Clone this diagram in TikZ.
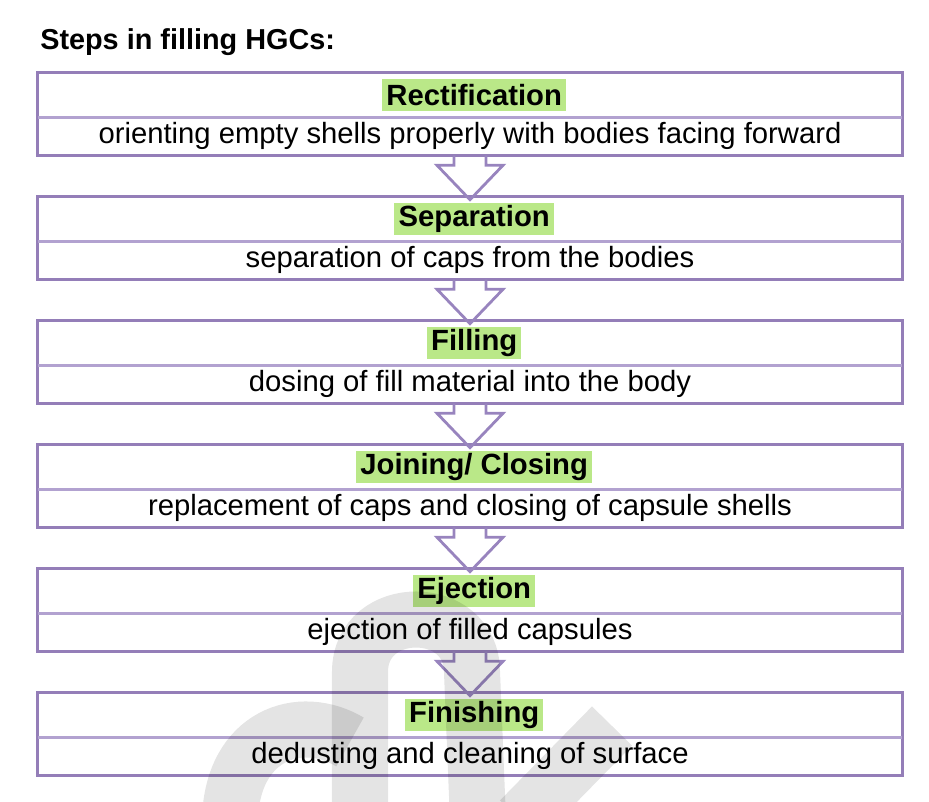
\documentclass[tikz,border=0pt]{standalone}
\usepackage{fontspec}
\setmainfont{Liberation Sans}
\usepackage{tikz}
\usetikzlibrary{calc}
\definecolor{framepurple}{RGB}{148,126,184}
\definecolor{dividerpurple}{RGB}{178,162,208}
\definecolor{arrowpurple}{RGB}{152,132,190}
\definecolor{hlgreen}{RGB}{186,232,136}
\definecolor{markgray}{RGB}{228,228,228}
\tikzset{>=latex}
\newcommand{\stepfont}{\fontsize{20.8}{24}\selectfont}
\tikzstyle{stephead}=[rectangle,minimum width=21.6cm,minimum height=1.1cm,inner sep=0pt]
\tikzstyle{stepdesc}=[rectangle,minimum width=21.6cm,minimum height=0.95cm,inner sep=0pt]
\tikzstyle{hilite}=[rectangle,fill=hlgreen,minimum height=0.8cm,inner xsep=3pt,inner ysep=0pt,font=\stepfont\bfseries]
\tikzstyle{frame}=[draw=framepurple,line width=0.075cm]
\tikzstyle{divider}=[draw=dividerpurple,line width=0.07cm]
\tikzstyle{flow}=[draw=arrowpurple,line width=0.07cm,line join=miter]
\tikzstyle{watermark}=[draw=markgray,line width=1.4cm]

\begin{document}
\begin{tikzpicture}[x=0.025cm,y=-0.025cm,font=\stepfont]
	\useasboundingbox (0,0) rectangle (929,802);
	
	\node[anchor=west,inner sep=0pt,font=\fontsize{20.5}{24}\selectfont\bfseries] (title) at (40,42) {Steps in filling HGCs:};
	
	\node[stephead] (head1) at (470,95) {};
	\node[stepdesc] (desc1) at (470,136) {};
	\node[stephead] (head2) at (470,219) {};
	\node[stepdesc] (desc2) at (470,260) {};
	\node[stephead] (head3) at (470,343) {};
	\node[stepdesc] (desc3) at (470,384) {};
	\node[stephead] (head4) at (470,467) {};
	\node[stepdesc] (desc4) at (470,508) {};
	\node[stephead] (head5) at (470,591) {};
	\node[stepdesc] (desc5) at (470,632) {};
	\node[stephead] (head6) at (470,715) {};
	\node[stepdesc] (desc6) at (470,756) {};
	
	\node[hilite,xshift=0.3em] (hl1) at (head1) {Rectification\hspace{0.6em}};
	\node[hilite,xshift=0.3em] (hl2) at (head2) {Separation\hspace{0.6em}};
	\node[hilite,xshift=0.3em] (hl3) at (head3) {Filling\hspace{0.6em}};
	\node[hilite,xshift=0.3em] (hl4) at (head4) {Joining/ Closing\hspace{0.6em}};
	\node[hilite,xshift=0.3em] (hl5) at (head5) {Ejection\hspace{0.6em}};
	\node[hilite,xshift=0.3em] (hl6) at (head6) {Finishing\hspace{0.6em}};
	
	\node (txt1) at (desc1) {orienting empty shells properly with bodies facing forward};
	\node (txt2) at (desc2) {separation of caps from the bodies};
	\node (txt3) at (desc3) {dosing of fill material into the body};
	\node (txt4) at (desc4) {replacement of caps and closing of capsule shells};
	\node (txt5) at (desc5) {ejection of filled capsules};
	\node (txt6) at (desc6) {dedusting and cleaning of surface};
	
	\draw[frame] (head1.north west) rectangle (desc1.south east);
	\draw[frame] (head2.north west) rectangle (desc2.south east);
	\draw[frame] (head3.north west) rectangle (desc3.south east);
	\draw[frame] (head4.north west) rectangle (desc4.south east);
	\draw[frame] (head5.north west) rectangle (desc5.south east);
	\draw[frame] (head6.north west) rectangle (desc6.south east);
	
	\draw[divider] (head1.south west) -- (head1.south east);
	\draw[divider] (head2.south west) -- (head2.south east);
	\draw[divider] (head3.south west) -- (head3.south east);
	\draw[divider] (head4.south west) -- (head4.south east);
	\draw[divider] (head5.south west) -- (head5.south east);
	\draw[divider] (head6.south west) -- (head6.south east);
	
	% hollow arrows between steps
	\draw[flow] ($(desc1.south)+(-16,0)$) -- ++(0,10) -- ++(-17,0) -- ($(head2.north)+(0,3)$) -- ($(desc1.south)+(33,10)$) -- ++(-17,0) -- ++(0,-10);
	\draw[flow] ($(desc2.south)+(-16,0)$) -- ++(0,10) -- ++(-17,0) -- ($(head3.north)+(0,3)$) -- ($(desc2.south)+(33,10)$) -- ++(-17,0) -- ++(0,-10);
	\draw[flow] ($(desc3.south)+(-16,0)$) -- ++(0,10) -- ++(-17,0) -- ($(head4.north)+(0,3)$) -- ($(desc3.south)+(33,10)$) -- ++(-17,0) -- ++(0,-10);
	\draw[flow] ($(desc4.south)+(-16,0)$) -- ++(0,10) -- ++(-17,0) -- ($(head5.north)+(0,3)$) -- ($(desc4.south)+(33,10)$) -- ++(-17,0) -- ++(0,-10);
	\draw[flow] ($(desc5.south)+(-16,0)$) -- ++(0,10) -- ++(-17,0) -- ($(head6.north)+(0,3)$) -- ($(desc5.south)+(33,10)$) -- ++(-17,0) -- ++(0,-10);
	
	% watermark
	\begin{scope}[blend mode=multiply]
	\clip (0,0) rectangle (929,802);
	\draw[watermark] (360,820) -- (360,672) .. controls (360,602) and (472,602) .. (472,672) -- (478,820);
	\draw[watermark] (230,820) .. controls (232,735) and (300,712) .. (350,742);
	\draw[watermark] (612,726) -- (520,820);
	\end{scope}
\end{tikzpicture}
\end{document}
